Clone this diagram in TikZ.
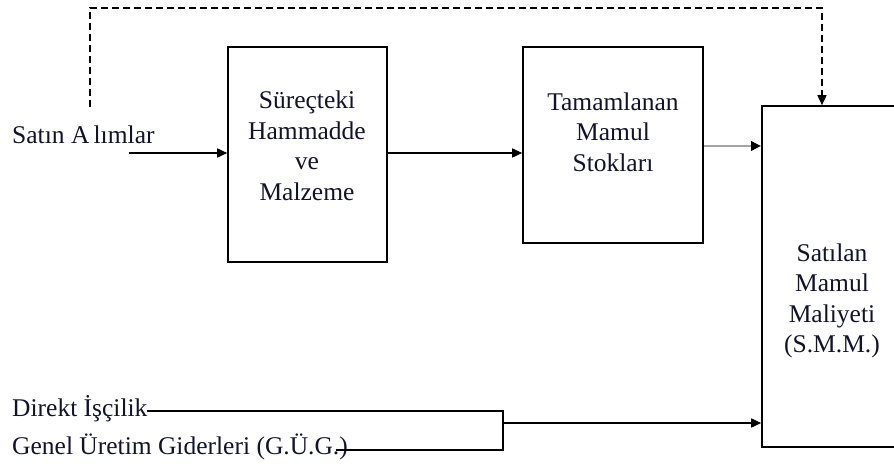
\documentclass[tikz,border=0pt]{standalone}
\usepackage{fontspec}
\setmainfont{Liberation Serif}
\usetikzlibrary{arrows.meta}
\definecolor{txtc}{RGB}{18,18,45}
\definecolor{grayline}{RGB}{165,165,165}
\begin{document}
\begin{tikzpicture}[x=1pt,y=-1pt,
  boxst/.style={draw=black,line width=1.6pt,inner sep=0pt},
  txt/.style={text=txtc,font=\fontsize{25.5}{30.5}\selectfont,align=center,inner sep=0pt},
  ltxt/.style={text=txtc,font=\fontsize{25.5}{30}\selectfont,inner sep=0pt,anchor=west},
  conn/.style={line width=1.6pt,draw=black},
  arr/.style={conn,-{Triangle[length=10pt,width=9pt,color=black]}},
  dashconn/.style={conn,dash pattern=on 7pt off 4pt,-{Triangle[length=10pt,width=9pt]}}
]
\useasboundingbox (0,0) rectangle (894,468);
\clip (0,0) rectangle (894,468);
% boxes
\node[boxst,minimum width=159pt,minimum height=215pt] (b1) at (307.5,154.5) {};
\node[boxst,minimum width=180pt,minimum height=196pt] (b2) at (613,145) {};
\node[boxst,minimum width=140pt,minimum height=341pt] (b3) at (832,276.5) {};
% box texts
\node[txt] (t1) at (307,146) {Süreçteki\\Hammadde\\ve\\Malzeme};
\node[txt] (t2) at (613,132) {Tamamlanan\\Mamul\\Stokları};
\node[txt] (t3) at (832,301) {Satılan\\Mamul\\Maliyeti\\(S.M.M.)};
% left labels
\node[ltxt] (sa) at (12,135) {Satın A\,lımlar};
\node[ltxt] (di) at (12,409) {Direkt İşçilik};
\node[ltxt] (gug) at (12,447) {Genel Üretim Giderleri (G.Ü.G.)};
% coordinates
\coordinate (saS) at (129,153);
\coordinate (dash0) at (90,107);
\coordinate (dash1) at (90,8);
\coordinate (dash2) at (822,8);
\coordinate (jT) at (503,411);
\coordinate (jB) at (503,450);
\coordinate (jM) at (503,423);
% connectors
\draw[arr] (saS) -- (saS -| b1.west);
\draw[arr] (b1.east |- saS) -- (b2.west |- saS);
\draw[arr,draw=grayline,line width=2.6pt] (b2.east |- 0,146) -- (b3.west |- 0,146);
\draw[dashconn] (dash0) -- (dash1) -- (dash2) -- (dash2 |- b3.north);
\draw[conn] ([xshift=-1pt]di.east |- jT) -- (jT) -- (jB) -- ([xshift=-12pt]gug.east |- jB);
\draw[arr] (jM) -- (jM -| b3.west);
\end{tikzpicture}
\end{document}
